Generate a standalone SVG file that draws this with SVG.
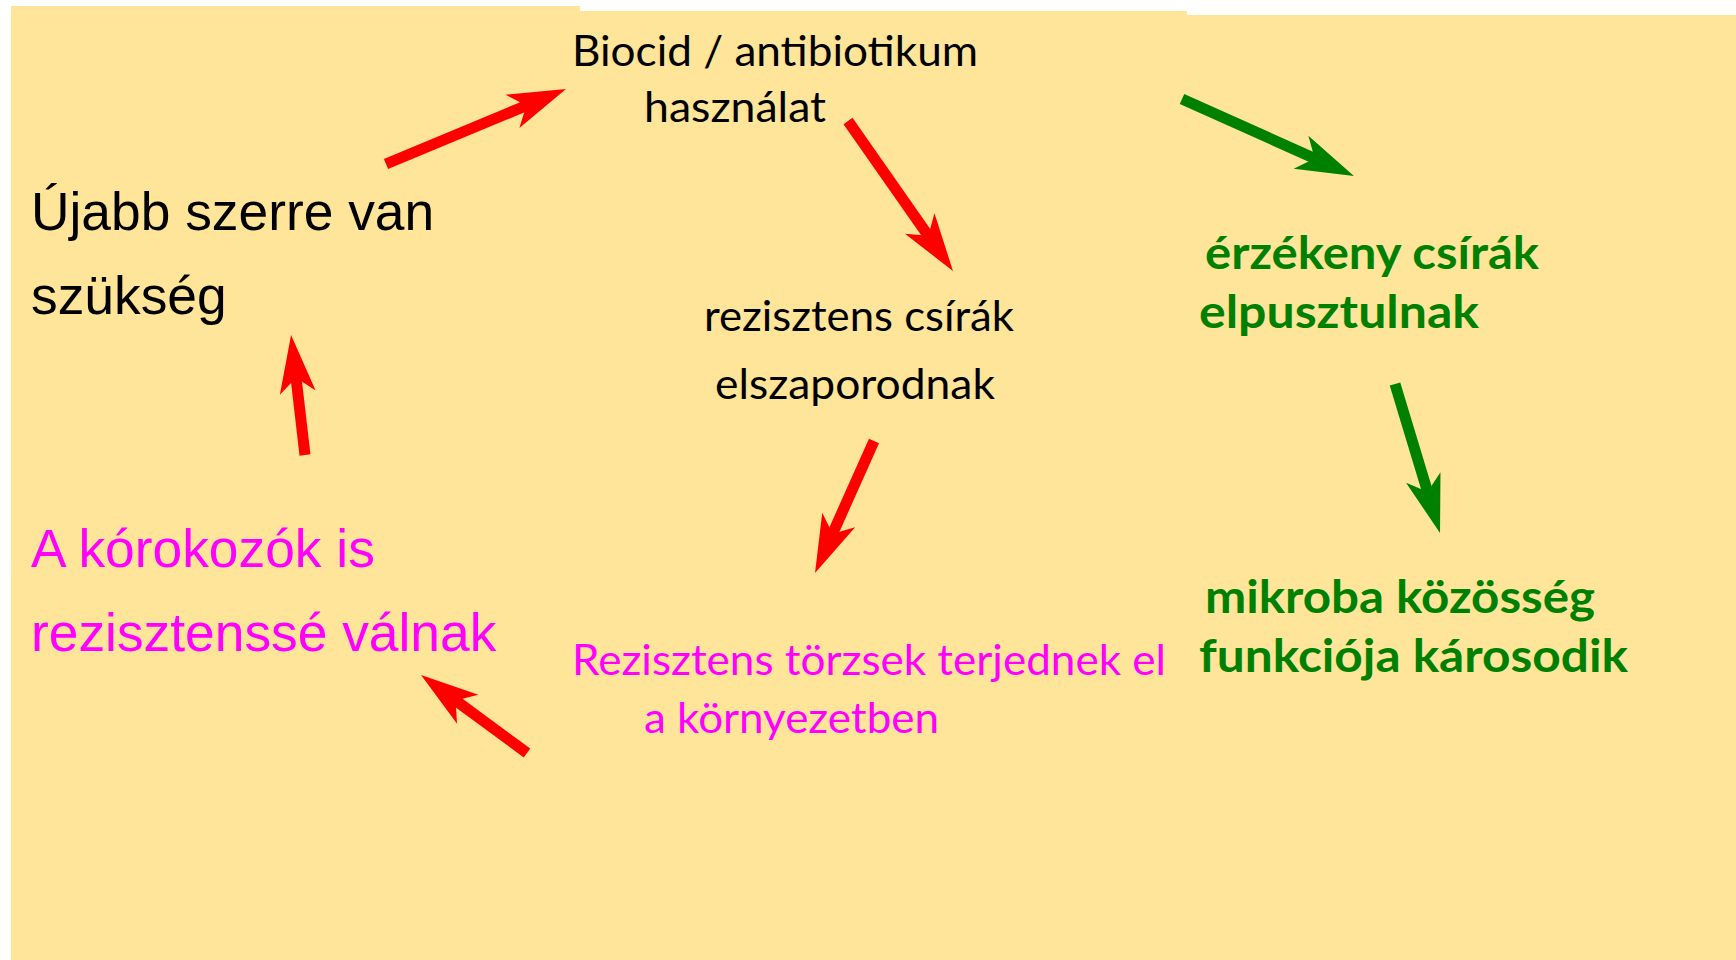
<svg xmlns="http://www.w3.org/2000/svg" width="1736" height="960" viewBox="0 0 1736 960">
<style>
.bg{fill:#FFE599}
.cal{font-family:Lato,"Open Sans","DejaVu Sans",sans-serif;font-size:42px}
.calb{font-family:Lato,"Open Sans","DejaVu Sans",sans-serif;font-size:46px;font-weight:bold;fill:#008000}
.ari{font-family:"Liberation Sans",Arial,sans-serif;font-size:53.33px}
.blk{fill:#000}
.mag{fill:#FF00FF}
.red{stroke:#FF0000;stroke-width:11;fill:none;stroke-linecap:butt}
.grn{stroke:#008000;stroke-width:11;fill:none;stroke-linecap:butt}
</style>
<defs>
<marker id="ahr" markerUnits="userSpaceOnUse" viewBox="-30 -25 70 50" markerWidth="70" markerHeight="50" refX="0" refY="0" orient="auto" overflow="visible">
<path d="M35,0 L-23,-18 L-8,0 L-23,18 Z" fill="#FF0000"/>
</marker>
<marker id="ahg" markerUnits="userSpaceOnUse" viewBox="-30 -25 70 50" markerWidth="70" markerHeight="50" refX="0" refY="0" orient="auto" overflow="visible">
<path d="M35,0 L-23,-18 L-8,0 L-23,18 Z" fill="#008000"/>
</marker>
</defs>
<g id="background">
<rect class="bg" x="11" y="6" width="569" height="954"/>
<rect class="bg" x="580" y="11" width="607" height="949"/>
<rect class="bg" x="1187" y="15" width="549" height="945"/>
</g>
<g id="node-biocid" class="cal blk">
<text x="572" y="66" textLength="406" lengthAdjust="spacingAndGlyphs">Biocid / antibiotikum</text>
<text x="644" y="122" textLength="182" lengthAdjust="spacingAndGlyphs">használat</text>
</g>
<g id="node-rezisztens-csirak" class="cal blk">
<text x="704" y="331" textLength="310" lengthAdjust="spacingAndGlyphs">rezisztens csírák</text>
<text x="715" y="399" textLength="280" lengthAdjust="spacingAndGlyphs">elszaporodnak</text>
</g>
<g id="node-terjednek" class="cal mag">
<text x="572" y="675" textLength="594" lengthAdjust="spacingAndGlyphs">Rezisztens törzsek terjednek el</text>
<text x="644" y="733" textLength="295" lengthAdjust="spacingAndGlyphs">a környezetben</text>
</g>
<g id="node-korokozok" class="ari mag">
<text x="31" y="567">A kórokozók is</text>
<text x="31" y="651">rezisztenssé válnak</text>
</g>
<g id="node-ujabb" class="ari blk">
<text x="31" y="230">Újabb szerre van</text>
<text x="31" y="314">szükség</text>
</g>
<g id="node-erzekeny" class="calb">
<text x="1205" y="269" textLength="334" lengthAdjust="spacingAndGlyphs">érzékeny csírák</text>
<text x="1199" y="328" textLength="280" lengthAdjust="spacingAndGlyphs">elpusztulnak</text>
</g>
<g id="node-mikroba" class="calb">
<text x="1205" y="613" textLength="390" lengthAdjust="spacingAndGlyphs">mikroba közösség</text>
<text x="1199" y="672" textLength="429" lengthAdjust="spacingAndGlyphs">funkciója károsodik</text>
</g>
<g id="connectors">
<line class="red" x1="386" y1="164" x2="533.7" y2="102.5" marker-end="url(#ahr)"/>
<line class="red" x1="848" y1="121" x2="932.9" y2="242.3" marker-end="url(#ahr)"/>
<line class="red" x1="874" y1="441" x2="829.3" y2="541" marker-end="url(#ahr)"/>
<line class="red" x1="527" y1="753" x2="449.2" y2="695.7" marker-end="url(#ahr)"/>
<line class="red" x1="305" y1="455" x2="295.1" y2="369.8" marker-end="url(#ahr)"/>
<line class="grn" x1="1182" y1="99" x2="1322" y2="161.7" marker-end="url(#ahg)"/>
<line class="grn" x1="1395" y1="384" x2="1429.9" y2="499.5" marker-end="url(#ahg)"/>
</g>
</svg>
